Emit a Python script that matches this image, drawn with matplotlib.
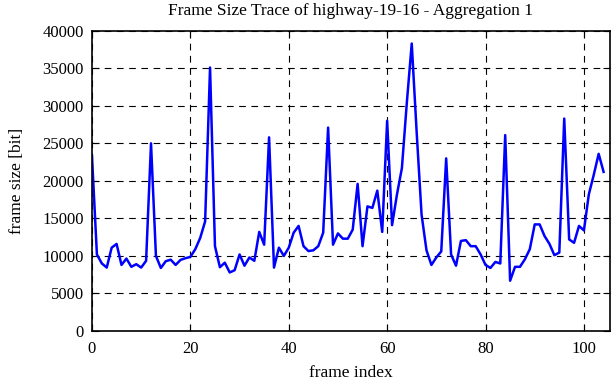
import matplotlib
matplotlib.use('Agg')
import matplotlib.pyplot as plt

plt.rcParams['font.family'] = ['Liberation Serif', 'DejaVu Serif']

frameSizes = [
    23300, 10200, 9000, 8450, 11100, 11600, 8800, 9650, 8550, 8900,
    8450, 9350, 25000, 10000, 8400, 9300, 9500, 8800, 9470, 9700,
    9870, 10900, 12400, 14600, 35100, 11300, 8500, 9100, 7800, 8100,
    10200, 8700, 9800, 9350, 13200, 11500, 25800, 8450, 11100, 10000,
    11100, 13100, 14000, 11300, 10650, 10750, 11300, 13100, 27100, 11500,
    13000, 12300, 12300, 13500, 19600, 11300, 16600, 16400, 18700, 13200,
    28000, 14100, 18200, 21700, 30400, 38300, 26500, 15500, 10750, 8800,
    9800, 10600, 23000, 10200, 8700, 12000, 12100, 11300, 11300, 10200,
    8800, 8400, 9200, 9000, 26100, 6700, 8550, 8550, 9550, 10900,
    14200, 14200, 12650, 11600, 10100, 10450, 28300, 12200, 11750, 14000,
    13400, 18200, 20800, 23600, 21200,
]
frameIndex = list(range(len(frameSizes)))

fig = plt.figure(figsize=(6.12, 3.82), dpi=100)
ax = fig.add_axes([0.1503, 0.1335, 0.8464, 0.786])

ax.plot(frameIndex, frameSizes, color='#0000ff', linewidth=1.8)

ax.set_xlim(0, 105.3)
ax.set_ylim(0, 40000)
ax.set_xticks([0, 20, 40, 60, 80, 100])
ax.set_yticks(range(0, 40001, 5000))
ax.grid(True, color='black', linestyle=(0, (6, 5)), linewidth=0.8)
ax.tick_params(direction='in', top=True, right=True, length=5, labelsize=12)
ax.tick_params(axis='x', pad=7)
ax.tick_params(axis='y', pad=6)
for spine in ax.spines.values():
    spine.set_linewidth(1.2)

ax.set_xlabel('frame index', fontsize=12.5, labelpad=6)
ax.set_ylabel('frame size [bit]', fontsize=12.5, labelpad=12)
ax.set_title('Frame Size Trace of highway-19-16 - Aggregation 1', fontsize=12.5, pad=11)

fig.savefig('out.png', dpi=100)
